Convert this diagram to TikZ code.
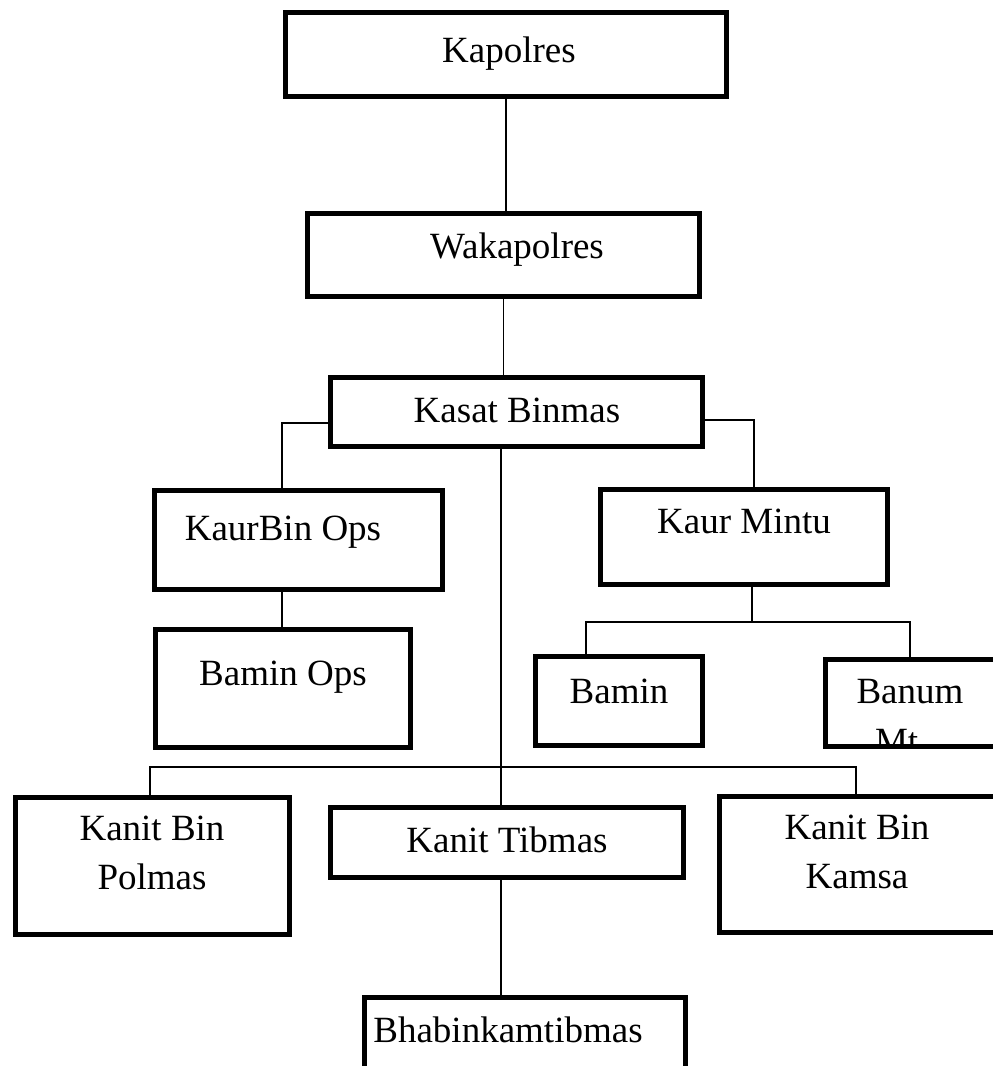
\documentclass[tikz,border=0pt]{standalone}
\usepackage{fontspec}
\setmainfont{Liberation Serif}
\begin{document}
\begin{tikzpicture}[x=1pt,y=-1pt,
  box/.style={draw=black, line width=5.5pt, rectangle, inner sep=0pt, outer sep=0pt},
  lbl/.style={inner sep=0pt, outer sep=0pt, anchor=base, font=\fontsize{37}{49}\selectfont, align=center},
  conn/.style={draw=black, line width=1.4pt}]
\useasboundingbox (0,0) rectangle (993,1066);
\clip (0,0) rectangle (993,1066);

% boxes
\node[box, minimum width=441pt, minimum height=84pt] (kapolres) at (506,54.5) {};
\node[box, minimum width=392pt, minimum height=83pt] (wakapolres) at (503.5,255) {};
\node[box, minimum width=372pt, minimum height=69pt] (kasat) at (516.5,412) {};
\node[box, minimum width=288pt, minimum height=99pt] (kaurbin) at (298.5,540) {};
\node[box, minimum width=287pt, minimum height=95pt] (kaurmintu) at (744,537) {};
\node[box, minimum width=255pt, minimum height=118pt] (baminops) at (283,688.5) {};
\node[box, minimum width=167pt, minimum height=89pt] (bamin) at (619,701) {};
\node[box, minimum width=184.5pt, minimum height=87pt] (banum) at (917.75,703) {};
\node[box, minimum width=274pt, minimum height=137pt] (polmas) at (152.5,866) {};
\node[box, minimum width=353pt, minimum height=70pt] (tibmas) at (507,842.5) {};
\node[box, minimum width=290.5pt, minimum height=136pt] (kamsa) at (864.75,864.5) {};
\node[box, minimum width=321pt, minimum height=102.5pt] (bhab) at (525,1048.75) {};

% texts
\node[lbl] (t-kapolres) at (509,62) {Kapolres};
\node[lbl] (t-wakapolres) at (517,258) {Wakapolres};
\node[lbl] (t-kasat) at (517,422) {Kasat Binmas};
\node[lbl] (t-kaurbin) at (283,540) {KaurBin Ops};
\node[lbl] (t-kaurmintu) at (744,533) {Kaur Mintu};
\node[lbl] (t-baminops) at (283,685) {Bamin Ops};
\node[lbl] (t-bamin) at (619,703) {Bamin};
\node[lbl] (t-banum) at (910,703) {Banum};
\begin{scope}
  \clip (banum.north west) rectangle (banum.south east);
  \node[lbl, anchor=base west] (t-banum2) at (875,753) {Mt};
\end{scope}
\node[lbl] (t-polmas) at (152,889) {Kanit Bin\\Polmas};
\node[lbl] (t-tibmas) at (507,852) {Kanit Tibmas};
\node[lbl] (t-kamsa) at (857,888) {Kanit Bin\\Kamsa};
\node[lbl] (t-bhab) at (508,1042) {Bhabinkamtibmas};

% helper coordinates
\coordinate (kl) at (282,423);
\coordinate (kr) at (754,420);
\coordinate (kc) at (501,0);
\coordinate (b1) at (150,767);
\coordinate (b2) at (856,767);
\coordinate (ko) at (282,0);
\coordinate (mx) at (752,0);
\coordinate (m1) at (586,622);
\coordinate (m2) at (910,622);

% connectors
\draw[conn] (kapolres.south) -- (kapolres.south |- wakapolres.north);
\draw[conn] (wakapolres.south) -- (wakapolres.south |- kasat.north);
\draw[conn] (kasat.west |- kl) -| (kaurbin.north -| kl);
\draw[conn] (kasat.east |- kr) -| (kaurmintu.north -| kr);
\draw[conn] (kasat.south -| kc) -- (tibmas.north -| kc);
\draw[conn] (polmas.north -| b1) |- (b2) -- (kamsa.north -| b2);
\draw[conn] (kaurbin.south -| ko) -- (baminops.north -| ko);
\draw[conn] (kaurmintu.south -| mx) -- (mx |- m1);
\draw[conn] (bamin.north -| m1) |- (m2) -- (banum.north -| m2);
\draw[conn] (tibmas.south -| kc) -- (bhab.north -| kc);
\end{tikzpicture}
\end{document}
